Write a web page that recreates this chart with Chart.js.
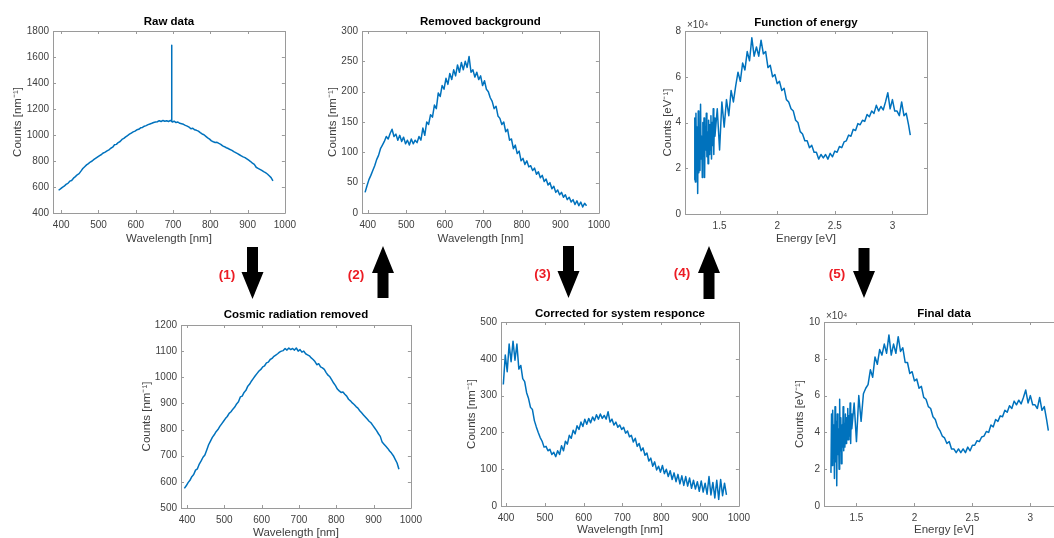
<!DOCTYPE html>
<html>
<head>
<meta charset="utf-8">
<script src="https://cdn.jsdelivr.net/npm/chart.js@4.4.1/dist/chart.umd.min.js"></script>
<style>
  html, body { margin: 0; padding: 0; background: #fff; }
  body { width: 1054px; height: 538px; overflow: hidden; position: relative; }
  .panel { position: absolute; }
  #arrows { position: absolute; left: 0; top: 0; pointer-events: none; }
</style>
</head>
<body>
<svg id="arrows" width="1054" height="538"></svg>
<script>
// ---- data ----

// Wavelength grid (nm) for the spectra plotted against wavelength.
const wavelengths = [
  393, 398, 403, 408, 413, 418, 423, 428, 433, 438,
  443, 448, 453, 458, 463, 468, 473, 478, 483, 488,
  493, 498, 503, 508, 513, 518, 523, 528, 533, 538,
  543, 548, 553, 558, 563, 568, 573, 578, 583, 588,
  593, 598, 603, 608, 613, 618, 623, 628, 633, 638,
  643, 648, 653, 658, 663, 668, 673, 678, 683, 688,
  693, 698, 703, 708, 713, 718, 723, 728, 733, 738,
  743, 748, 753, 758, 763, 768, 773, 778, 783, 788,
  793, 798, 803, 808, 813, 818, 823, 828, 833, 838,
  843, 848, 853, 858, 863, 868, 873, 878, 883, 888,
  893, 898, 903, 908, 913, 918, 923, 928, 933, 938,
  943, 948, 953, 958, 963, 968
];

// Cosmic radiation removed (counts per nm).
const cosmicCounts = [
  575, 585, 597, 606, 620, 628, 645, 650, 668, 680,
  694, 703, 722, 742, 756, 770, 780, 792, 800, 812,
  822, 832, 842, 850, 862, 868, 878, 886, 898, 906,
  925, 928, 942, 950, 966, 974, 986, 996, 1006, 1015,
  1024, 1030, 1040, 1044, 1055, 1058, 1068, 1072, 1080, 1085,
  1090, 1096, 1100, 1102, 1110, 1104, 1112, 1106, 1110, 1104,
  1112, 1100, 1106, 1096, 1100, 1090, 1086, 1082, 1074, 1068,
  1060, 1048, 1052, 1040, 1036, 1030, 1018, 1008, 1002, 990,
  978, 968, 955, 948, 942, 944, 935, 928, 916, 910,
  902, 896, 888, 882, 872, 864, 856, 848, 840, 832,
  826, 816, 806, 796, 784, 774, 752, 744, 736, 728,
  718, 710, 700, 686, 672, 648
];

// The cosmic-ray spike present only in the raw data.
const spikeWavelengths = [695, 696, 697];
const spikeCounts = [1108, 1690, 1104];

// Background removed (counts per nm).
const backgroundRemoved = [
  34, 45, 55, 62, 70, 78, 88, 95, 106, 112,
  118, 126, 122, 131, 138, 126, 130, 120, 128, 118,
  125, 114, 120, 112, 122, 114, 120, 116, 126, 120,
  140, 128, 150, 146, 162, 158, 178, 172, 198, 192,
  210, 204, 222, 212, 230, 220, 236, 226, 244, 232,
  248, 236, 250, 240, 258, 232, 236, 224, 232, 220,
  226, 210, 218, 204, 200, 190, 184, 172, 176, 160,
  156, 146, 150, 134, 138, 120, 122, 106, 112, 98,
  102, 86, 90, 80, 86, 76, 78, 70, 74, 64,
  68, 58, 62, 52, 56, 46, 50, 40, 44, 34,
  38, 30, 34, 26, 30, 22, 26, 18, 22, 14,
  20, 12, 18, 10, 16, 12
];

// Corrected for system response (counts per nm).
const correctedCounts = [
  330, 410, 365, 440, 392, 448, 396, 440, 372, 382,
  346, 338, 308, 292, 268, 262, 232, 215, 200, 186,
  176, 160, 162, 150, 154, 140, 146, 134, 150, 140,
  164, 150, 176, 168, 192, 184, 206, 196, 218, 208,
  228, 216, 236, 222, 238, 226, 242, 232, 248, 236,
  250, 238, 246, 236, 256, 228, 236, 220, 228, 214,
  220, 208, 214, 198, 204, 188, 192, 174, 184, 162,
  170, 150, 158, 138, 144, 122, 130, 108, 120, 98,
  108, 92, 110, 88, 100, 80, 96, 72, 90, 66,
  86, 60, 82, 56, 80, 54, 76, 48, 70, 46,
  66, 40, 68, 38, 62, 32, 80, 30, 64, 22,
  70, 18, 72, 28, 62, 30
];

// Energy grid (eV) for the spectra plotted against energy.
const energies = [
  1.28, 1.285, 1.29, 1.295, 1.30, 1.305, 1.31, 1.315, 1.32, 1.325,
  1.33, 1.335, 1.34, 1.345, 1.35, 1.355, 1.36, 1.365, 1.37, 1.375,
  1.38, 1.385, 1.39, 1.395, 1.40, 1.405, 1.41, 1.415, 1.42, 1.425,
  1.43, 1.435, 1.44, 1.445, 1.45, 1.455, 1.46,
  1.48, 1.50, 1.52, 1.54, 1.56, 1.58, 1.60, 1.62, 1.64, 1.66,
  1.68, 1.70, 1.72, 1.74, 1.76, 1.78, 1.80, 1.82, 1.84, 1.86,
  1.88, 1.90, 1.92, 1.94, 1.96, 1.98, 2.00, 2.02, 2.04, 2.06,
  2.08, 2.10, 2.12, 2.14, 2.16, 2.18, 2.20, 2.22, 2.24, 2.26,
  2.28, 2.30, 2.32, 2.34, 2.36, 2.38, 2.40, 2.42, 2.44, 2.46,
  2.48, 2.50, 2.52, 2.54, 2.56, 2.58, 2.60, 2.62, 2.64, 2.66,
  2.68, 2.70, 2.72, 2.74, 2.76, 2.78, 2.80, 2.82, 2.84, 2.86,
  2.88, 2.90, 2.92, 2.94, 2.96, 2.98, 3.00, 3.02, 3.04, 3.06,
  3.08, 3.10, 3.12, 3.14, 3.155
];

// Function of energy (counts per eV, in units of 1e4).
const energyCounts = [
  1.5, 4.2, 1.4, 4.4, 2.2, 3.8, 0.9, 4.5, 1.8, 3.6,
  1.9, 4.8, 2.4, 3.4, 1.6, 4.0, 2.6, 4.2, 1.6, 3.8,
  2.8, 4.4, 2.5, 3.6, 2.2, 4.1, 2.6, 3.9, 2.8, 4.3,
  2.4, 4.0, 3.0, 4.6, 2.6, 4.2, 3.4,
  4.6, 2.8, 4.9, 3.8, 5.0, 4.3, 5.4, 4.9, 5.6, 6.2,
  5.8, 6.6, 6.3, 7.1, 6.7, 7.7, 6.9, 7.3, 6.9, 7.6,
  7.0, 7.1, 6.4, 6.5, 6.0, 6.1, 5.7, 5.8, 5.4, 5.5,
  5.0, 4.9, 4.6, 4.5, 4.1, 4.0, 3.6, 3.5, 3.2, 3.2,
  2.9, 3.0, 2.7, 2.7, 2.4, 2.6, 2.45, 2.6, 2.4, 2.65,
  2.5, 2.75, 2.7, 2.95, 2.9, 3.15, 3.2, 3.45, 3.4, 3.7,
  3.65, 3.95, 3.9, 4.1, 4.05, 4.35, 4.25, 4.5, 4.4, 4.75,
  4.5, 4.7, 4.55, 4.9, 5.3, 4.6, 5.0, 4.5, 4.5, 4.3,
  4.9, 4.3, 4.4, 3.9, 3.45
];

// Final data (counts per eV, in units of 1e4).
const finalCounts = [
  1.8, 5.0, 2.2, 5.2, 2.8, 4.4, 1.5, 5.4, 2.4, 4.6,
  1.1, 5.0, 2.8, 4.2, 2.0, 5.8, 3.0, 4.8, 2.3, 4.4,
  3.2, 5.4, 3.0, 4.5, 3.2, 5.0, 3.4, 4.8, 3.6, 5.3,
  3.6, 4.9, 3.8, 5.6, 3.4, 5.0, 4.2,
  5.6, 3.5, 6.0, 4.6, 6.1, 6.4, 6.6, 7.4, 7.0, 8.1,
  7.7, 8.5, 8.2, 8.8, 8.3, 9.3, 8.2, 8.8, 8.3, 9.2,
  8.4, 8.6, 7.8, 7.8, 7.2, 7.3, 6.8, 6.9, 6.4, 6.5,
  5.9, 5.8, 5.4, 5.3, 4.85, 4.7, 4.3, 4.1, 3.8, 3.7,
  3.4, 3.5, 3.1, 3.1, 2.9, 3.1, 2.9, 3.1, 2.9, 3.2,
  3.0, 3.3, 3.3, 3.55, 3.5, 3.75, 3.8, 4.05, 4.0, 4.4,
  4.3, 4.7, 4.6, 4.9, 4.85, 5.2, 5.1, 5.45, 5.3, 5.7,
  5.5, 5.75, 5.55, 5.9, 6.3, 5.6, 6.0, 5.5, 5.5, 5.3,
  5.9, 5.2, 5.4, 4.7, 4.1
];

// Tick labels.
const wavelengthTicks = [400, 500, 600, 700, 800, 900, 1000];
const energyTicks = [1.5, 2, 2.5, 3];
const rawTicks = [400, 600, 800, 1000, 1200, 1400, 1600, 1800];
const backgroundTicks = [0, 50, 100, 150, 200, 250, 300];
const cosmicTicks = [500, 600, 700, 800, 900, 1000, 1100, 1200];
const correctedTicks = [0, 100, 200, 300, 400, 500];
const energyCountTicks = [0, 2, 4, 6, 8];
const finalTicks = [0, 2, 4, 6, 8, 10];

// Process steps between panels.
const stepLabels = ['(1)', '(2)', '(3)', '(4)', '(5)'];

// ---- drawing ----

const FONT = '"Liberation Sans", Arial, Helvetica, sans-serif';
const TICK_SIZE = 10;
const LABEL_SIZE = 11.5;
const TITLE_SIZE = 11.5;
const LH = 1.2;
const LINE_COLOR = '#0072BD';
const AXIS_COLOR = '#9a9a9a';
const TEXT_COLOR = '#404040';

Chart.defaults.font.family = FONT;
Chart.defaults.color = TEXT_COLOR;

function toPoints(xs, ys) {
  return xs.map(function(x, i) {
    return {x: x, y: ys[i]};
  });
}

// MATLAB-style box with inward ticks on all four sides, plus the exponent label.
const boxPlugin = {
  id: 'matlabBox',
  afterDraw: function(chart, _args, opts) {
    const ctx = chart.ctx;
    const a = chart.chartArea;
    const x = chart.scales.x;
    const y = chart.scales.y;
    ctx.save();
    ctx.strokeStyle = AXIS_COLOR;
    ctx.lineWidth = 1;
    ctx.beginPath();
    ctx.rect(Math.round(a.left) + 0.5, Math.round(a.top) + 0.5,
      Math.round(a.right - a.left), Math.round(a.bottom - a.top));
    x.ticks.forEach(function(t) {
      const px = Math.round(x.getPixelForValue(t.value)) + 0.5;
      ctx.moveTo(px, a.bottom);
      ctx.lineTo(px, a.bottom - 3);
      ctx.moveTo(px, a.top);
      ctx.lineTo(px, a.top + 3);
    });
    y.ticks.forEach(function(t) {
      const py = Math.round(y.getPixelForValue(t.value)) + 0.5;
      ctx.moveTo(a.left, py);
      ctx.lineTo(a.left + 3, py);
      ctx.moveTo(a.right, py);
      ctx.lineTo(a.right - 3, py);
    });
    ctx.stroke();
    if (opts.exponent) {
      ctx.font = TICK_SIZE + 'px ' + FONT;
      ctx.fillStyle = TEXT_COLOR;
      ctx.textAlign = 'left';
      ctx.textBaseline = 'bottom';
      ctx.fillText(opts.exponent, a.left + 2, a.top - 1);
    }
    ctx.restore();
  }
};

function fixedTicks(values) {
  return function(scale) {
    scale.ticks = values.map(function(v) { return {value: v}; });
  };
}

function panel(spec) {
  const l = spec.box[0], t = spec.box[1], r = spec.box[2], b = spec.box[3];
  const labelHalf = LABEL_SIZE * LH / 2;
  const titleHalf = TITLE_SIZE * LH / 2;
  const rightPad = 14;

  const left = Math.floor(spec.yTitleX - labelHalf - 1);
  const yTitlePad = spec.yTitleX - labelHalf - left;
  const top = Math.floor(t - spec.titleGap - titleHalf - 2);
  const titlePadTop = (t - spec.titleGap - titleHalf) - top;
  const titlePadBottom = spec.titleGap - titleHalf;
  const bottom = Math.ceil(spec.xTitleY + labelHalf + 1);
  const xTitlePad = bottom - (spec.xTitleY + labelHalf);

  const div = document.createElement('div');
  div.className = 'panel';
  div.style.left = left + 'px';
  div.style.top = top + 'px';
  div.style.width = (r - left + rightPad) + 'px';
  div.style.height = (bottom - top) + 'px';
  const canvas = document.createElement('canvas');
  div.appendChild(canvas);
  document.body.insertBefore(div, document.getElementById('arrows'));

  new Chart(canvas, {
    type: 'line',
    data: {
      datasets: [{
        data: spec.points,
        borderColor: LINE_COLOR,
        borderWidth: 1.5,
        borderJoinStyle: 'round',
        pointRadius: 0,
        tension: 0
      }]
    },
    options: {
      responsive: true,
      maintainAspectRatio: false,
      animation: false,
      devicePixelRatio: 1,
      layout: {padding: {left: 0, top: 0, right: rightPad, bottom: 0}},
      plugins: {
        legend: {display: false},
        tooltip: {enabled: false},
        title: {
          display: true,
          text: spec.title,
          fullSize: false,
          color: '#000',
          font: {size: TITLE_SIZE, weight: 'bold', lineHeight: LH},
          padding: {top: titlePadTop, bottom: titlePadBottom}
        },
        matlabBox: {exponent: spec.exponent || ''}
      },
      scales: {
        x: {
          type: 'linear',
          min: spec.xRange[0],
          max: spec.xRange[1],
          grid: {display: false, drawTicks: false},
          border: {display: false},
          afterBuildTicks: fixedTicks(spec.xTicks),
          afterFit: function(s) { s.height = bottom - b; },
          ticks: {
            font: {size: TICK_SIZE, lineHeight: LH},
            padding: 6,
            maxRotation: 0,
            callback: function(v) { return String(v); }
          },
          title: {
            display: true,
            text: spec.xTitle,
            font: {size: LABEL_SIZE, lineHeight: LH},
            padding: {top: 0, bottom: xTitlePad}
          }
        },
        y: {
          type: 'linear',
          min: spec.yRange[0],
          max: spec.yRange[1],
          grid: {display: false, drawTicks: false},
          border: {display: false},
          afterBuildTicks: fixedTicks(spec.yTicks),
          afterFit: function(s) { s.width = l - left; },
          ticks: {
            font: {size: TICK_SIZE, lineHeight: LH},
            padding: 4,
            callback: function(v) { return String(v); }
          },
          title: {
            display: true,
            text: spec.yTitle,
            font: {size: LABEL_SIZE, lineHeight: LH},
            padding: {top: yTitlePad, bottom: 0}
          }
        }
      }
    },
    plugins: [boxPlugin]
  });
}

const rawPoints = toPoints(wavelengths, cosmicCounts)
  .concat(toPoints(spikeWavelengths, spikeCounts))
  .sort(function(p, q) { return p.x - q.x; });

panel({
  title: 'Raw data', box: [53, 31, 288, 213], yTitleX: 18, xTitleY: 239, titleGap: 9,
  xRange: [378, 1000], yRange: [400, 1800], xTicks: wavelengthTicks, yTicks: rawTicks,
  xTitle: 'Wavelength [nm]', yTitle: 'Counts [nm\u207B\u00B9]', points: rawPoints
});
panel({
  title: 'Removed background', box: [362, 31, 602, 213], yTitleX: 333, xTitleY: 239, titleGap: 9,
  xRange: [385, 1000], yRange: [0, 300], xTicks: wavelengthTicks, yTicks: backgroundTicks,
  xTitle: 'Wavelength [nm]', yTitle: 'Counts [nm\u207B\u00B9]',
  points: toPoints(wavelengths, backgroundRemoved)
});
panel({
  title: 'Function of energy', box: [685, 31, 927, 214], yTitleX: 668, xTitleY: 239, titleGap: 8,
  xRange: [1.2, 3.3], yRange: [0, 8], xTicks: energyTicks, yTicks: energyCountTicks,
  xTitle: 'Energy [eV]', yTitle: 'Counts [eV\u207B\u00B9]', exponent: '\u00D710\u2074',
  points: toPoints(energies, energyCounts)
});
panel({
  title: 'Cosmic radiation removed', box: [181, 325, 414, 508], yTitleX: 147, xTitleY: 533, titleGap: 10,
  xRange: [384, 1000], yRange: [500, 1200], xTicks: wavelengthTicks, yTicks: cosmicTicks,
  xTitle: 'Wavelength [nm]', yTitle: 'Counts [nm\u207B\u00B9]',
  points: toPoints(wavelengths, cosmicCounts)
});
panel({
  title: 'Corrected for system responce', box: [501, 322, 742, 506], yTitleX: 472, xTitleY: 530, titleGap: 8,
  xRange: [387, 1000], yRange: [0, 500], xTicks: wavelengthTicks, yTicks: correctedTicks,
  xTitle: 'Wavelength [nm]', yTitle: 'Counts [nm\u207B\u00B9]',
  points: toPoints(wavelengths, correctedCounts)
});
panel({
  title: 'Final data', box: [824, 322, 1064, 506], yTitleX: 800, xTitleY: 530, titleGap: 8,
  xRange: [1.22, 3.29], yRange: [0, 10], xTicks: energyTicks, yTicks: finalTicks,
  xTitle: 'Energy [eV]', yTitle: 'Counts [eV\u207B\u00B9]', exponent: '\u00D710\u2074',
  points: toPoints(energies, finalCounts)
});

// Block arrows between the panels with their red step numbers.
const arrowSpecs = [
  {cx: 252.5, from: 247, to: 299, labelX: 227, labelY: 274},
  {cx: 383, from: 298, to: 246, labelX: 356, labelY: 274},
  {cx: 568.5, from: 246, to: 298, labelX: 542.5, labelY: 273},
  {cx: 709, from: 299, to: 246, labelX: 682, labelY: 272},
  {cx: 864, from: 248, to: 298, labelX: 837, labelY: 273}
];

const svg = document.getElementById('arrows');
const NS = 'http://www.w3.org/2000/svg';
arrowSpecs.forEach(function(a, i) {
  const dir = a.to > a.from ? 1 : -1;
  const base = a.to - dir * 27;
  const pts = [
    [a.cx - 5.5, a.from], [a.cx + 5.5, a.from], [a.cx + 5.5, base], [a.cx + 11, base],
    [a.cx, a.to], [a.cx - 11, base], [a.cx - 5.5, base]
  ];
  const poly = document.createElementNS(NS, 'polygon');
  poly.setAttribute('points', pts.map(function(p) { return p.join(','); }).join(' '));
  poly.setAttribute('fill', '#000');
  svg.appendChild(poly);

  const text = document.createElementNS(NS, 'text');
  text.setAttribute('x', a.labelX);
  text.setAttribute('y', a.labelY);
  text.setAttribute('text-anchor', 'middle');
  text.setAttribute('dominant-baseline', 'central');
  text.setAttribute('font-family', FONT);
  text.setAttribute('font-weight', 'bold');
  text.setAttribute('font-size', '13.5');
  text.setAttribute('fill', '#ec1c24');
  text.textContent = stepLabels[i];
  svg.appendChild(text);
});
</script>
</body>
</html>
